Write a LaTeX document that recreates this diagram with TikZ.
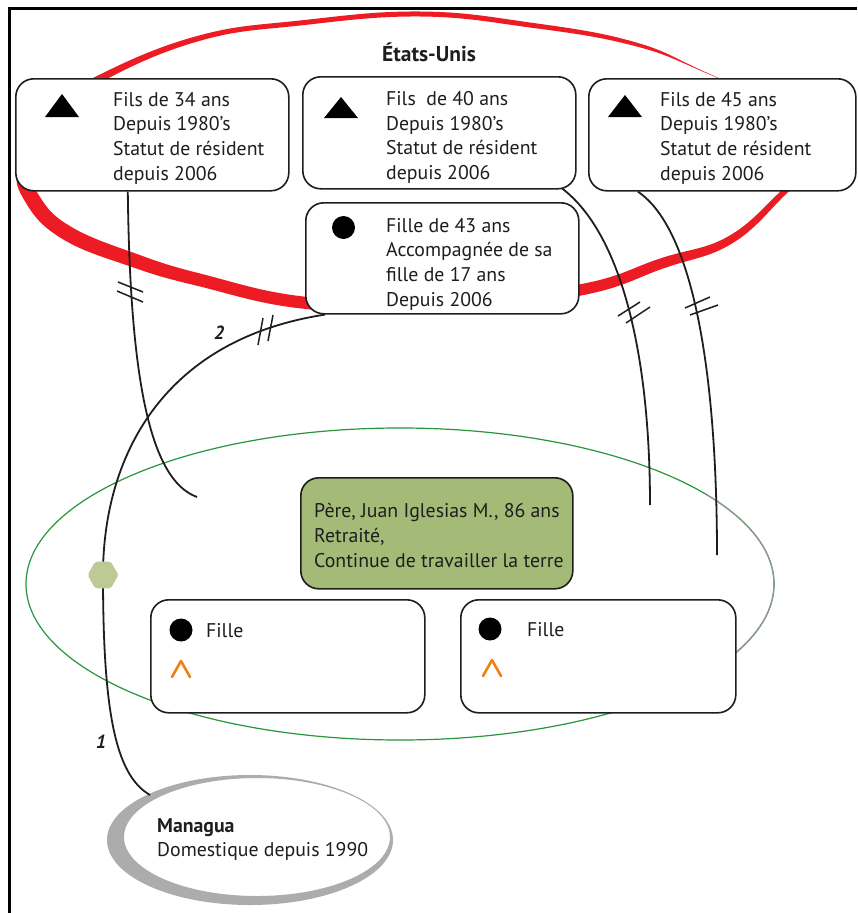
\documentclass[tikz,border=0pt]{standalone}
\usepackage{fontspec}
\setmainfont{PT Sans}
\usetikzlibrary{shapes.geometric}
\definecolor{redring}{RGB}{237,28,36}
\definecolor{greenline}{RGB}{40,150,60}
\definecolor{grayline}{RGB}{150,150,150}
\definecolor{greenbox}{RGB}{163,187,118}
\definecolor{hexcol}{RGB}{190,202,150}
\definecolor{grayring}{RGB}{172,172,172}
\definecolor{caretcol}{RGB}{240,128,20}
\definecolor{ink}{RGB}{30,30,30}
\begin{document}
\begin{tikzpicture}[x=1pt,y=-1pt,
  box/.style={draw=ink, line width=1.6pt, rounded corners=18pt, fill=white, anchor=north west, inner sep=0pt},
  txt/.style={anchor=north west, inner sep=0pt, align=left, font=\fontsize{19.8}{24.7}\selectfont, text=ink},
  conn/.style={line width=1.8pt, ink},
  tickmark/.style={line width=1.5pt, ink},
  lab/.style={inner sep=0pt, font=\fontsize{19}{22}\selectfont\bfseries\itshape, text=ink},
  caret/.style={line width=2.6pt, caretcol, line cap=round, line join=round}
]
\useasboundingbox (0,0) rectangle (857,913);
\fill[white] (0,0) rectangle (857,913);
% frame
\draw[line width=3.5pt, black] (8,8.5) -- (857,8.5);
\draw[line width=3.5pt, black] (9.5,7) -- (9.5,913);

% red ring (Etats-Unis)
\fill[redring, even odd rule]
  plot[smooth cycle, tension=0.7] coordinates {(18,165) (46,111) (101,74) (199,35.5) (300,20.5) (420,11.5) (530,22.5) (631,41) (700,69.6) (792,116) (818,160) (785,195) (732,243.5) (664.5,268) (581,295.5) (440,311) (306,309) (198,286) (130.5,266.5) (62.5,239) (26,203)}
  plot[smooth cycle, tension=0.7] coordinates {(32,165) (54,119) (105,80) (201,40.5) (300,25.5) (420,16.5) (530,27.5) (629,44.5) (700,70.4) (792,116) (812,160) (781,191) (728,236.5) (661.5,258) (579,284.5) (440,299) (308,297) (202,274) (135.5,253.5) (71.5,227) (40,197)};

% green ellipse (household)
\draw[greenline, line width=1.2pt] (400,584) ellipse [x radius=374, y radius=156];
\draw[grayline, line width=1.2pt] (706.4,494.5) arc[start angle=-35, end angle=30, x radius=374, y radius=156];

% gray ring (Managua)
\fill[grayring, even odd rule]
  (250,840) ellipse [x radius=143, y radius=65]
  (257,837) ellipse [x radius=133, y radius=59];

% coordinates for free ends
\coordinate (e1) at (197,497);
\coordinate (e3) at (650,505);
\coordinate (e4) at (717,555);
\coordinate (m1) at (150,795);

\path (15,78) node[box, draw=none, fill=none, minimum width=273pt, minimum height=112pt] (boxa) {};
\path (302,76) node[box, draw=none, fill=none, minimum width=273pt, minimum height=112pt] (boxb) {};
\path (588,78) node[box, draw=none, fill=none, minimum width=267pt, minimum height=112pt] (boxc) {};
\path (305,202) node[box, draw=none, fill=none, minimum width=273pt, minimum height=111pt] (boxd) {};

% connectors
\draw[conn] ([xshift=-24.5pt]boxa.south) .. controls (130,380) and (150,480) .. (e1);
\draw[conn] ([xshift=-17pt,yshift=3pt]boxb.south east) .. controls (620,230) and (650,350) .. (e3);
\draw[conn] ([xshift=-84.5pt]boxc.south) .. controls (695,230) and (717,380) .. (e4);
\node[regular polygon, regular polygon sides=6, minimum size=30pt, inner sep=0pt] (hex) at (103,575) {};
\draw[conn] (m1) .. controls (115,775) and (103,710) .. (hex.center);
\draw[conn] (hex.center) .. controls (103,460) and (160,340) .. ([xshift=20pt]boxd.south west);
\node[regular polygon, regular polygon sides=6, minimum size=31pt, inner sep=0pt, fill=hexcol, rounded corners=2pt] (hexfill) at (103,575) {};

% tick marks
\draw[tickmark] (118,282) -- (143,292);
\draw[tickmark] (117,291) -- (143,302);
\draw[tickmark] (258,345) -- (263,318);
\draw[tickmark] (268,341) -- (273,315);
\draw[tickmark] (618,316) -- (640,302);
\draw[tickmark] (626,323) -- (650,307);
\draw[tickmark] (685,308) -- (710,297);
\draw[tickmark] (690,315) -- (718,305);

% labels on connectors
\node[lab] (l2) at (219,333) {2};
\node[lab] (l1) at (101,742) {1};

% boxes
\node[box, minimum width=273pt, minimum height=112pt] (ba) at (15,78) {};
\node[box, minimum width=273pt, minimum height=112pt] (bb) at (302,76) {};
\node[box, minimum width=267pt, minimum height=112pt] (bc) at (588,78) {};
\node[box, minimum width=273pt, minimum height=111pt] (bd) at (305,202) {};
\node[box, fill=greenbox, minimum width=272pt, minimum height=111pt] (be) at (300,477) {};
\node[box, minimum width=274pt, minimum height=113pt] (bf) at (150,599) {};
\node[box, minimum width=275pt, minimum height=113pt] (bg) at (460,599) {};

% symbols
\fill[black] (62,94) -- (79,117) -- (45,117) -- cycle;
\fill[black] (341,97) -- (358,118) -- (324,118) -- cycle;
\fill[black] (625,95) -- (642,117) -- (608,117) -- cycle;
\fill[black] (343.5,227.5) circle (11.5);
\fill[black] (181,630) circle (11.5);
\fill[black] (490,629) circle (11.5);
\draw[caret] (172,677) -- (181,661) -- (190,677);
\draw[caret] (483,676) -- (492,660) -- (501,676);

% texts
\node[txt, font=\fontsize{21.5}{24.7}\selectfont\bfseries] (us) at (382,43) {États-Unis};
\node[txt] (ta) at (113,92) {Fils de 34 ans\\Depuis 1980’s\\Statut de résident\\depuis 2006};
\node[txt] (tb) at (386,91) {Fils\ \ de 40 ans\\Depuis 1980’s\\Statut de résident\\depuis 2006};
\node[txt] (tc) at (660,92) {Fils de 45 ans\\Depuis 1980’s\\Statut de résident\\depuis 2006};
\node[txt] (td) at (386,218) {Fille de 43 ans\\Accompagnée de sa\\fille de 17 ans\\Depuis 2006};
\node[txt, font=\fontsize{19.8}{25}\selectfont] (te) at (314,503) {Père, Juan Iglesias M., 86 ans\\Retraité,\\Continue de travailler la terre};
\node[txt] (tf) at (206,623) {Fille};
\node[txt] (tg) at (527,622) {Fille};
\node[txt, font=\fontsize{19.8}{24}\selectfont\bfseries] (mg) at (157,818) {Managua};
\node[txt] (md) at (157,842) {Domestique depuis 1990};
\end{tikzpicture}
\end{document}
